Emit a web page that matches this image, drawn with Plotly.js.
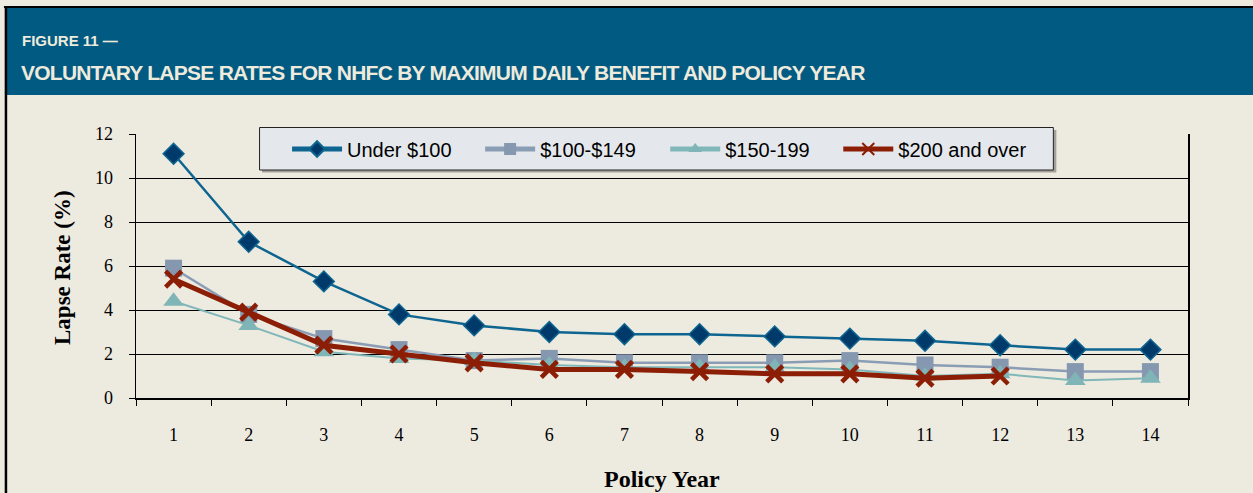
<!DOCTYPE html>
<html>
<head>
<meta charset="utf-8">
<script src="https://cdn.plot.ly/plotly-3.0.1.min.js"></script>
<style>
html,body{margin:0;padding:0;background:#fff;}
#chart{width:1253px;height:493px;}
text.annotation-text[data-unformatted*="VOLUNTARY"]{letter-spacing:-0.75px;}
</style>
</head>
<body>
<div id="chart"></div>
<script>
// ---- data ----
const policyYears = ["1","2","3","4","5","6","7","8","9","10","11","12","13","14"];
const under100   = [11.1, 7.1, 5.3, 3.8, 3.3, 3.0, 2.9, 2.9, 2.8, 2.7, 2.6, 2.4, 2.2, 2.2];
const from100to149 = [5.9, 3.8, 2.7, 2.2, 1.7, 1.8, 1.6, 1.6, 1.6, 1.7, 1.5, 1.4, 1.2, 1.2];
const from150to199 = [4.4, 3.3, 2.1, 1.8, 1.7, 1.5, 1.4, 1.4, 1.4, 1.3, 1.0, 1.1, 0.8, 0.9];
const over200    = [5.4, 3.9, 2.4, 2.0, 1.6, 1.3, 1.3, 1.2, 1.1, 1.1, 0.9, 1.0, null, null];
const seriesNames = ["Under $100", "$100-$149", "$150-199", "$200 and over"];
const yTicks = [0, 2, 4, 6, 8, 10, 12];
const figureLabel = "FIGURE 11 —";
const chartTitle = "VOLUNTARY LAPSE RATES FOR NHFC BY MAXIMUM DAILY BENEFIT AND POLICY YEAR";
const yTitle = "Lapse Rate (%)";
const xTitle = "Policy Year";

// ---- layout helpers (pixel -> paper) ----
const W = 1253, H = 493;
const L = 136, R = 1187.6, T = 134, B = 398;
const px = v => (v - L) / (R - L);
const py = v => (B - v) / (B - T);

const BG = "#EDEAE0";
const HEADER = "#015A82";
const LEGEND_BG = "#E4E8EC";

const traces = [
  {x: policyYears, y: under100, name: seriesNames[0], type: "scatter", mode: "lines+markers", legend: "legend",
   line: {color: "#0D6590", width: 2.5},
   marker: {symbol: "diamond", size: 16, color: "#003A6B", line: {color: "#0D6590", width: 1.5}}},
  {x: policyYears, y: from100to149, name: seriesNames[1], type: "scatter", mode: "lines+markers", legend: "legend2",
   line: {color: "#8A9DB5", width: 2.5},
   marker: {symbol: "square", size: 17, color: "#8598B0", line: {width: 0}}},
  {x: policyYears, y: from150to199, name: seriesNames[2], type: "scatter", mode: "lines+markers", legend: "legend3",
   line: {color: "#80B7B8", width: 2},
   marker: {symbol: "triangle-up", size: 18, color: "#7FB5B6", line: {width: 0}}},
  {x: policyYears, y: over200, name: seriesNames[3], type: "scatter", mode: "lines+markers", legend: "legend4",
   line: {color: "#8B1E05", width: 5},
   marker: {symbol: "x-thin", size: 16, color: "#8B1E05", line: {color: "#8B1E05", width: 4.5}}}
];

function legendAt(sampleStartPx) {
  return {
    orientation: "h",
    x: px(sampleStartPx - 6), y: py(149), xanchor: "left", yanchor: "middle",
    bgcolor: "rgba(0,0,0,0)", borderwidth: 0,
    font: {family: "Liberation Sans, Arial, sans-serif", size: 20, color: "#000"},
    itemwidth: 50, itemsizing: "constant"
  };
}

const layout = {
  width: W, height: H,
  margin: {l: L, r: W - R, t: T, b: H - B, pad: 0},
  paper_bgcolor: BG,
  plot_bgcolor: BG,
  showlegend: true,
  legend: legendAt(293),
  legend2: legendAt(486),
  legend3: legendAt(671),
  legend4: legendAt(844),
  xaxis: {
    type: "category",
    range: [-0.5, 13.5],
    autorange: false,
    tickson: "boundaries",
    ticks: "outside", ticklen: 6, tickcolor: "#000", tickwidth: 1,
    showline: true, linecolor: "#000", linewidth: 1.5,
    showgrid: false, zeroline: false,
    tickfont: {family: "Liberation Serif, Times New Roman, serif", size: 18, color: "#000"},
    ticklabelstandoff: 20,
    fixedrange: true
  },
  yaxis: {
    range: [0, 12],
    tickvals: yTicks,
    ticks: "outside", ticklen: 6, tickcolor: "#000", tickwidth: 1,
    showline: true, linecolor: "#000", linewidth: 1.5, mirror: true,
    showgrid: true, gridcolor: "#000", gridwidth: 1,
    zeroline: false,
    tickfont: {family: "Liberation Serif, Times New Roman, serif", size: 18, color: "#000"},
    ticklabelstandoff: 12,
    fixedrange: true
  },
  shapes: [
    {type: "rect", xref: "paper", yref: "paper", x0: px(5), x1: px(W), y0: py(95), y1: py(8),
     fillcolor: HEADER, line: {width: 0}, layer: "below"},
    {type: "line", xref: "paper", yref: "paper", x0: px(4), x1: px(W), y0: py(7), y1: py(7),
     line: {color: "#000", width: 2}},
    {type: "line", xref: "paper", yref: "paper", x0: px(6), x1: px(6), y0: py(7), y1: py(H),
     line: {color: "#000", width: 2.5}},
    // legend shadow + box
    {type: "rect", xref: "paper", yref: "paper", x0: px(262), x1: px(1056), y0: py(172.5), y1: py(130),
     fillcolor: "#A3A199", line: {width: 0}, layer: "above"},
    {type: "rect", xref: "paper", yref: "paper", x0: px(259.5), x1: px(1053), y0: py(170), y1: py(127.5),
     fillcolor: LEGEND_BG, line: {color: "#222", width: 1}, layer: "above"}
  ],
  annotations: [
    {text: "<b>" + figureLabel + "</b>", xref: "paper", yref: "paper", x: px(20), y: py(40),
     xanchor: "left", yanchor: "middle", showarrow: false,
     font: {family: "Liberation Sans, Arial, sans-serif", size: 15, color: "#EEEBDD"}},
    {text: "<b>" + chartTitle + "</b>", xref: "paper", yref: "paper", x: px(19), y: py(72),
     xanchor: "left", yanchor: "middle", showarrow: false,
     font: {family: "Liberation Sans, Arial, sans-serif", size: 21, color: "#EEEBDD"}},
    {text: "<b>" + yTitle + "</b>", xref: "paper", yref: "paper", x: px(62), y: py(267),
     xanchor: "center", yanchor: "middle", showarrow: false, textangle: -90,
     font: {family: "Liberation Serif, Times New Roman, serif", size: 23, color: "#000"}},
    {text: "<b>" + xTitle + "</b>", xref: "paper", yref: "paper", x: px(662), y: py(479),
     xanchor: "center", yanchor: "middle", showarrow: false,
     font: {family: "Liberation Serif, Times New Roman, serif", size: 24, color: "#000"}}
  ]
};

Plotly.newPlot("chart", traces, layout, {displayModeBar: false, staticPlot: true});
</script>
</body>
</html>
